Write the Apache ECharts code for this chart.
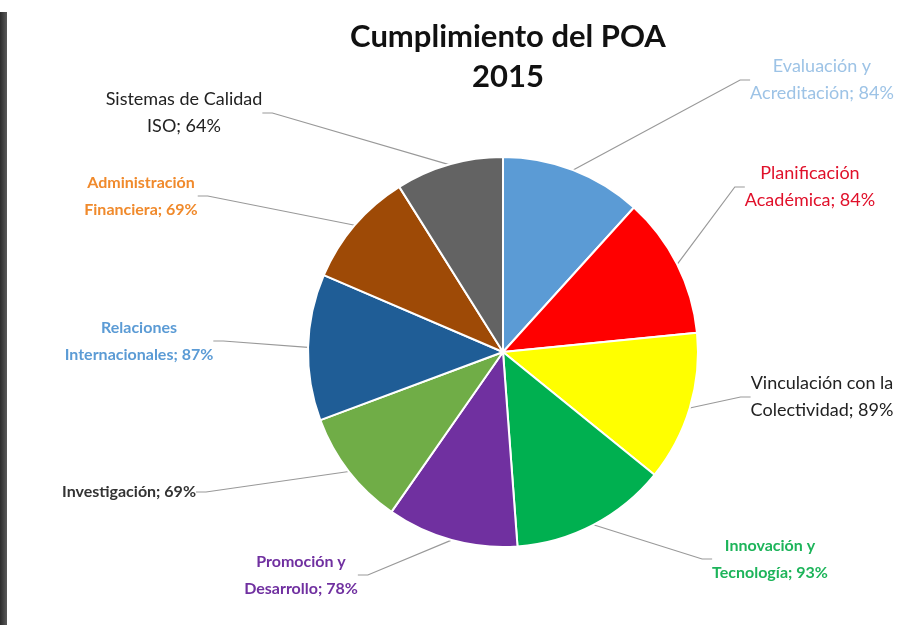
<!DOCTYPE html>
<html>
<head>
<meta charset="utf-8">
<script src="https://cdn.jsdelivr.net/npm/echarts@6/dist/echarts.min.js"></script>
<style>
  html, body { margin: 0; padding: 0; background: #fff; }
  #chart { width: 908px; height: 625px; }
</style>
</head>
<body>
<div id="chart"></div>
<script>
const categories = [
  'Evaluación y\nAcreditación',
  'Planificación\nAcadémica',
  'Vinculación con la\nColectividad',
  'Innovación y\nTecnología',
  'Promoción y\nDesarrollo',
  'Investigación',
  'Relaciones\nInternacionales',
  'Administración\nFinanciera',
  'Sistemas de Calidad\nISO'
];
const values = [84, 84, 89, 93, 78, 69, 87, 69, 64];

const sliceColors = ['#5b9bd5', '#ff0000', '#ffff00', '#00b050', '#7030a0', '#70ad47', '#1f5d96', '#9e4a06', '#636363'];
const labelColors = ['#9dc3e6', '#e0102a', '#222222', '#1db45a', '#7030a0', '#333333', '#5b9bd5', '#f08a2c', '#222222'];
const labelBold = [false, false, false, true, true, true, true, true, false];
// label anchor points (centre of the text block)
const labelPos = [
  [822, 80], [810, 187], [822, 397], [770, 559], [301, 575],
  [129, 492], [139, 341], [141, 196], [184, 113]
];

const chart = echarts.init(document.getElementById('chart'));

chart.setOption({
  backgroundColor: '#fff',
  title: {
    text: 'Cumplimiento del POA\n2015',
    left: 503,
    top: 12,
    textAlign: 'center',
    textStyle: {
      fontFamily: 'Lato',
      fontWeight: 'bold',
      fontSize: 31,
      lineHeight: 40,
      color: '#111'
    }
  },
  graphic: [{
    type: 'rect',
    shape: { x: 0, y: 12, width: 7, height: 613 },
    style: {
      fill: new echarts.graphic.LinearGradient(0, 0, 1, 0, [
        { offset: 0, color: '#2b2b2b' },
        { offset: 1, color: '#5a5a5a' }
      ])
    }
  }],
  series: [{
    type: 'pie',
    center: [503, 352],
    radius: 195,
    startAngle: 90,
    clockwise: true,
    itemStyle: { borderColor: '#fff', borderWidth: 2 },
    label: {
      show: true,
      fontFamily: 'Lato',
      fontSize: 16,
      lineHeight: 27,
      align: 'center',
      formatter: p => p.name + '; ' + p.value + '%'
    },
    labelLine: {
      show: true,
      length: 20,
      length2: 10,
      lineStyle: { color: '#999', width: 1.2 }
    },
    labelLayout: p => ({
      x: labelPos[p.dataIndex][0],
      y: labelPos[p.dataIndex][1],
      align: 'center',
      verticalAlign: 'middle'
    }),
    data: categories.map((c, i) => ({
      name: c,
      value: values[i],
      itemStyle: { color: sliceColors[i] },
      label: {
        color: labelColors[i],
        fontWeight: labelBold[i] ? 'bold' : 'normal',
        fontSize: labelBold[i] ? 16 : 18
      }
    }))
  }]
});
</script>
</body>
</html>
